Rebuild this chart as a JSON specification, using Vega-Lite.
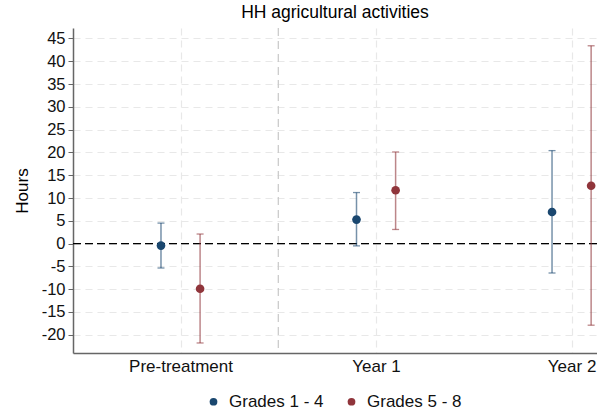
{
  "$schema": "https://vega.github.io/schema/vega-lite/v6.json",
  "width": 524,
  "height": 325,
  "autosize": {"type": "none"},
  "padding": {"left": 73, "top": 28, "right": 0, "bottom": 62},
  "background": "white",
  "config": {
    "font": "Liberation Sans",
    "view": {"stroke": null},
    "axis": {
      "labelFont": "Liberation Sans", "labelFontSize": 16.5, "labelColor": "#111",
      "titleFont": "Liberation Sans", "titleFontSize": 17, "titleFontWeight": "normal", "titleColor": "#000",
      "domainColor": "#666", "domainWidth": 1.5, "tickColor": "#666", "tickSize": 5,
      "grid": true, "gridColor": "#e8e8e8", "gridDash": [7, 5], "gridWidth": 1.2
    },
    "axisX": {"labelFontSize": 17},
    "legend": {
      "labelFont": "Liberation Sans", "labelFontSize": 17, "labelColor": "#111",
      "symbolOpacity": 1, "symbolStrokeWidth": 0, "symbolSize": 60, "symbolType": "circle"
    }
  },
  "title": {"text": "HH agricultural activities", "fontSize": 17.5, "fontWeight": "normal", "color": "#000", "font": "Liberation Sans", "offset": 6, "anchor": "middle"},
  "datasets": {
    "est": [
      {"period": 0, "group": "Grades 1 - 4", "est": -0.44, "lo": -5.35, "hi": 4.5},
      {"period": 0, "group": "Grades 5 - 8", "est": -9.9, "lo": -21.8, "hi": 2.1},
      {"period": 1, "group": "Grades 1 - 4", "est": 5.27, "lo": -0.5, "hi": 11.2},
      {"period": 1, "group": "Grades 5 - 8", "est": 11.7, "lo": 3.1, "hi": 20.1},
      {"period": 2, "group": "Grades 1 - 4", "est": 6.94, "lo": -6.45, "hi": 20.4},
      {"period": 2, "group": "Grades 5 - 8", "est": 12.7, "lo": -17.9, "hi": 43.4}
    ],
    "refs": [{"zero": 0, "split": 0.5}]
  },
  "layer": [
    {
      "data": {"name": "refs"},
      "mark": {"type": "rule", "color": "#c8c8c8", "strokeDash": [8, 5], "strokeWidth": 1.2},
      "encoding": {
        "x": {
          "field": "split", "type": "quantitative",
          "scale": {"domain": [-0.55, 2.13], "nice": false, "zero": false},
          "axis": {
            "title": null, "values": [0, 1, 2],
            "labelExpr": "datum.value == 0 ? 'Pre-treatment' : datum.value == 1 ? 'Year 1' : 'Year 2'",
            "labelPadding": 5, "ticks": false
          }
        }
      }
    },
    {
      "data": {"name": "refs"},
      "mark": {"type": "rule", "color": "#000", "strokeDash": [8, 4], "strokeWidth": 1.4},
      "encoding": {
        "y": {
          "field": "zero", "type": "quantitative",
          "scale": {"domain": [-24, 47.3], "nice": false, "zero": false},
          "axis": {
            "title": "Hours", "titlePadding": 10,
            "values": [-20, -15, -10, -5, 0, 5, 10, 15, 20, 25, 30, 35, 40, 45],
            "labelExpr": "'' + datum.value", "labelOverlap": false, "labelPadding": 3
          }
        }
      }
    },
    {
      "data": {"name": "est"},
      "transform": [{"calculate": "datum.period + (datum.group == 'Grades 1 - 4' ? -0.1 : 0.1)", "as": "xpos"}],
      "layer": [
        {
          "mark": {"type": "rule", "strokeWidth": 1.5, "opacity": 0.6},
          "encoding": {
            "x": {"field": "xpos", "type": "quantitative", "axis": {"title": null, "values": [0, 1, 2], "labelExpr": "datum.value == 0 ? 'Pre-treatment' : datum.value == 1 ? 'Year 1' : 'Year 2'", "labelPadding": 5, "ticks": false}},
            "y": {"field": "lo", "type": "quantitative", "axis": {"title": "Hours", "titlePadding": 10, "values": [-20, -15, -10, -5, 0, 5, 10, 15, 20, 25, 30, 35, 40, 45], "labelExpr": "'' + datum.value", "labelOverlap": false, "labelPadding": 3}},
            "y2": {"field": "hi"},
            "color": {
              "field": "group", "type": "nominal",
              "scale": {"domain": ["Grades 1 - 4", "Grades 5 - 8"], "range": ["#1a476f", "#90353b"]},
              "legend": {
                "title": null, "orient": "none", "direction": "horizontal",
                "legendX": 132, "legendY": 365, "columnPadding": 19, "labelOffset": 7, "symbolOpacity": 1
              }
            }
          }
        },
        {
          "mark": {"type": "tick", "orient": "horizontal", "size": 7, "thickness": 1.3, "opacity": 0.6},
          "encoding": {
            "x": {"field": "xpos", "type": "quantitative", "axis": {"title": null, "values": [0, 1, 2], "labelExpr": "datum.value == 0 ? 'Pre-treatment' : datum.value == 1 ? 'Year 1' : 'Year 2'", "labelPadding": 5, "ticks": false}},
            "y": {"field": "lo", "type": "quantitative", "axis": {"title": "Hours", "titlePadding": 10, "values": [-20, -15, -10, -5, 0, 5, 10, 15, 20, 25, 30, 35, 40, 45], "labelExpr": "'' + datum.value", "labelOverlap": false, "labelPadding": 3}},
            "color": {"field": "group", "type": "nominal"}
          }
        },
        {
          "mark": {"type": "tick", "orient": "horizontal", "size": 7, "thickness": 1.3, "opacity": 0.6},
          "encoding": {
            "x": {"field": "xpos", "type": "quantitative", "axis": {"title": null, "values": [0, 1, 2], "labelExpr": "datum.value == 0 ? 'Pre-treatment' : datum.value == 1 ? 'Year 1' : 'Year 2'", "labelPadding": 5, "ticks": false}},
            "y": {"field": "hi", "type": "quantitative", "axis": {"title": "Hours", "titlePadding": 10, "values": [-20, -15, -10, -5, 0, 5, 10, 15, 20, 25, 30, 35, 40, 45], "labelExpr": "'' + datum.value", "labelOverlap": false, "labelPadding": 3}},
            "color": {"field": "group", "type": "nominal"}
          }
        },
        {
          "mark": {"type": "point", "filled": true, "opacity": 1, "size": 75, "shape": "circle"},
          "encoding": {
            "x": {"field": "xpos", "type": "quantitative", "axis": {"title": null, "values": [0, 1, 2], "labelExpr": "datum.value == 0 ? 'Pre-treatment' : datum.value == 1 ? 'Year 1' : 'Year 2'", "labelPadding": 5, "ticks": false}},
            "y": {"field": "est", "type": "quantitative", "axis": {"title": "Hours", "titlePadding": 10, "values": [-20, -15, -10, -5, 0, 5, 10, 15, 20, 25, 30, 35, 40, 45], "labelExpr": "'' + datum.value", "labelOverlap": false, "labelPadding": 3}},
            "color": {"field": "group", "type": "nominal"}
          }
        }
      ]
    }
  ]
}
